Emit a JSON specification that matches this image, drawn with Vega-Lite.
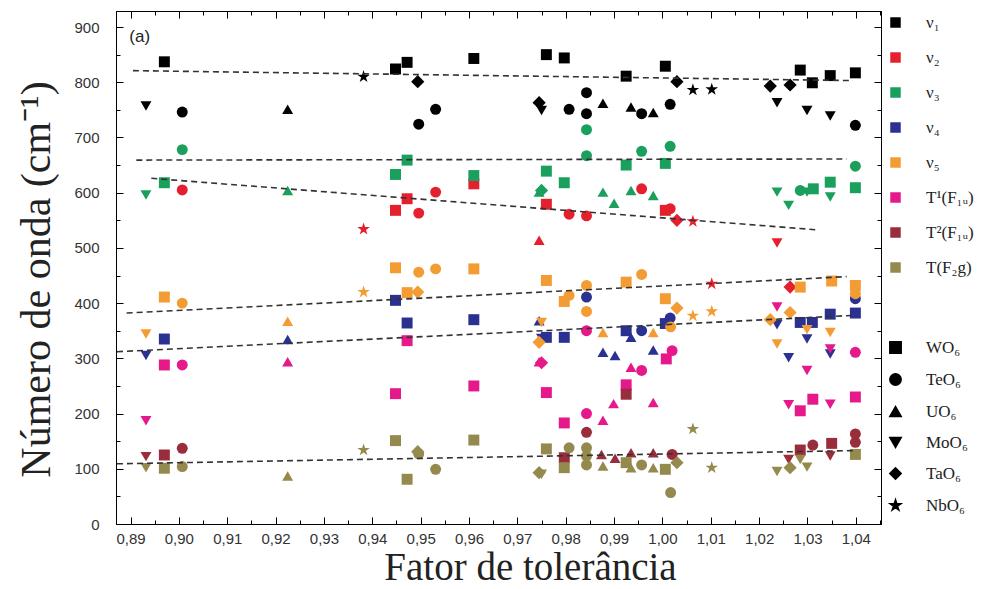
{
  "$schema": "https://vega.github.io/schema/vega-lite/v6.json",
  "width": 765,
  "height": 513,
  "autosize": {"type": "none"},
  "padding": {"left": 116, "top": 11, "right": 103, "bottom": 65},
  "background": "white",
  "config": {
    "view": {"stroke": "black", "strokeWidth": 1},
    "axis": {"domainColor": "black", "tickColor": "black", "grid": false, "labelColor": "#333", "labelFont": "Liberation Sans", "labelFontSize": 15, "titleFont": "Liberation Serif", "titleFontWeight": "normal", "titleColor": "#222"},
    "legend": {"padding": 0, "labelFont": "Liberation Serif", "labelFontSize": 17, "labelColor": "#222"}
  },
  "layer": [
    {
      "data": {"values": [
        {"m":"v1","c":"W","t":0.897,"w":837},{"m":"v1","c":"W","t":0.9448,"w":824},{"m":"v1","c":"W","t":0.9472,"w":836},{"m":"v1","c":"W","t":0.961,"w":843},{"m":"v1","c":"W","t":0.976,"w":850},{"m":"v1","c":"W","t":0.9797,"w":844},{"m":"v1","c":"W","t":0.9925,"w":811},{"m":"v1","c":"W","t":1.0006,"w":829},{"m":"v1","c":"W","t":1.0285,"w":822},{"m":"v1","c":"W","t":1.031,"w":799},{"m":"v1","c":"W","t":1.0347,"w":812},{"m":"v1","c":"W","t":1.0399,"w":817},
        {"m":"v1","c":"Te","t":0.9007,"w":746},{"m":"v1","c":"Te","t":0.9531,"w":751},{"m":"v1","c":"Te","t":0.9496,"w":724},{"m":"v1","c":"Te","t":0.9807,"w":751},{"m":"v1","c":"Te","t":0.9843,"w":781},{"m":"v1","c":"Te","t":0.9843,"w":743},{"m":"v1","c":"Te","t":0.9957,"w":743},{"m":"v1","c":"Te","t":1.0016,"w":760},{"m":"v1","c":"Te","t":1.0399,"w":722},
        {"m":"v1","c":"U","t":0.9225,"w":751},{"m":"v1","c":"U","t":0.9877,"w":762},{"m":"v1","c":"U","t":0.9935,"w":755},{"m":"v1","c":"U","t":0.9981,"w":745},
        {"m":"v1","c":"Mo","t":0.8932,"w":757},{"m":"v1","c":"Mo","t":0.975,"w":749},{"m":"v1","c":"Mo","t":1.0237,"w":763},{"m":"v1","c":"Mo","t":1.0299,"w":749},{"m":"v1","c":"Mo","t":1.0347,"w":739},
        {"m":"v1","c":"Ta","t":0.9494,"w":801},{"m":"v1","c":"Ta","t":0.9745,"w":763},{"m":"v1","c":"Ta","t":1.003,"w":801},{"m":"v1","c":"Ta","t":1.0223,"w":793},{"m":"v1","c":"Ta","t":1.0264,"w":795},
        {"m":"v1","c":"Nb","t":0.9382,"w":810},{"m":"v1","c":"Nb","t":1.0063,"w":786},{"m":"v1","c":"Nb","t":1.0102,"w":787},

        {"m":"v2","c":"Te","t":0.9007,"w":605},{"m":"v2","c":"Te","t":0.9531,"w":601},{"m":"v2","c":"Te","t":0.9496,"w":563},{"m":"v2","c":"Te","t":0.9807,"w":561},{"m":"v2","c":"Te","t":0.9843,"w":558},{"m":"v2","c":"Te","t":0.9957,"w":607},{"m":"v2","c":"Te","t":1.0016,"w":571},
        {"m":"v2","c":"W","t":0.9472,"w":589},{"m":"v2","c":"W","t":0.9448,"w":568},{"m":"v2","c":"W","t":0.961,"w":616},{"m":"v2","c":"W","t":0.976,"w":579},{"m":"v2","c":"W","t":1.0006,"w":568},
        {"m":"v2","c":"Ta","t":1.003,"w":550},{"m":"v2","c":"Ta","t":1.0264,"w":429},
        {"m":"v2","c":"U","t":0.9745,"w":514},
        {"m":"v2","c":"Nb","t":0.9382,"w":534},{"m":"v2","c":"Nb","t":1.0063,"w":548},{"m":"v2","c":"Nb","t":1.0102,"w":435},
        {"m":"v2","c":"Mo","t":1.0237,"w":509},

        {"m":"v3","c":"Te","t":0.9007,"w":678},{"m":"v3","c":"Te","t":0.9843,"w":714},{"m":"v3","c":"Te","t":0.9843,"w":667},{"m":"v3","c":"Te","t":0.9957,"w":675},{"m":"v3","c":"Te","t":1.0016,"w":684},{"m":"v3","c":"Te","t":1.0399,"w":648},{"m":"v3","c":"Te","t":1.0285,"w":604},
        {"m":"v3","c":"W","t":0.897,"w":618},{"m":"v3","c":"W","t":0.9448,"w":633},{"m":"v3","c":"W","t":0.9472,"w":659},{"m":"v3","c":"W","t":0.961,"w":631},{"m":"v3","c":"W","t":0.976,"w":639},{"m":"v3","c":"W","t":0.9797,"w":618},{"m":"v3","c":"W","t":0.9925,"w":650},{"m":"v3","c":"W","t":1.0006,"w":653},{"m":"v3","c":"W","t":1.0312,"w":607},{"m":"v3","c":"W","t":1.0347,"w":619},{"m":"v3","c":"W","t":1.0399,"w":609},
        {"m":"v3","c":"U","t":0.9225,"w":604},{"m":"v3","c":"U","t":0.9745,"w":601},{"m":"v3","c":"U","t":0.9877,"w":601},{"m":"v3","c":"U","t":0.99,"w":581},{"m":"v3","c":"U","t":0.9935,"w":604},{"m":"v3","c":"U","t":0.9981,"w":595},
        {"m":"v3","c":"Mo","t":0.8932,"w":596},{"m":"v3","c":"Mo","t":1.0237,"w":601},{"m":"v3","c":"Mo","t":1.0261,"w":577},{"m":"v3","c":"Mo","t":1.0299,"w":601},{"m":"v3","c":"Mo","t":1.0347,"w":592},
        {"m":"v3","c":"Ta","t":0.975,"w":604},

        {"m":"v4","c":"Mo","t":0.8932,"w":305},{"m":"v4","c":"Mo","t":0.975,"w":336},{"m":"v4","c":"Mo","t":1.0237,"w":361},{"m":"v4","c":"Mo","t":1.0261,"w":301},{"m":"v4","c":"Mo","t":1.0299,"w":335},{"m":"v4","c":"Mo","t":1.0347,"w":308},
        {"m":"v4","c":"W","t":0.897,"w":335},{"m":"v4","c":"W","t":0.9448,"w":405},{"m":"v4","c":"W","t":0.9472,"w":364},{"m":"v4","c":"W","t":0.961,"w":370},{"m":"v4","c":"W","t":0.976,"w":338},{"m":"v4","c":"W","t":0.9797,"w":338},{"m":"v4","c":"W","t":0.9925,"w":350},{"m":"v4","c":"W","t":1.0006,"w":363},{"m":"v4","c":"W","t":1.0285,"w":365},{"m":"v4","c":"W","t":1.031,"w":365},{"m":"v4","c":"W","t":1.0347,"w":380},{"m":"v4","c":"W","t":1.0399,"w":382},
        {"m":"v4","c":"U","t":0.9225,"w":334},{"m":"v4","c":"U","t":0.9745,"w":368},{"m":"v4","c":"U","t":0.9877,"w":311},{"m":"v4","c":"U","t":0.9902,"w":305},{"m":"v4","c":"U","t":0.9935,"w":338},{"m":"v4","c":"U","t":0.9981,"w":315},
        {"m":"v4","c":"Te","t":0.9843,"w":411},{"m":"v4","c":"Te","t":0.9957,"w":350},{"m":"v4","c":"Te","t":1.0016,"w":373},{"m":"v4","c":"Te","t":1.0399,"w":408},

        {"m":"v5","c":"Mo","t":0.8932,"w":344},{"m":"v5","c":"Mo","t":0.975,"w":365},{"m":"v5","c":"Mo","t":1.0237,"w":326},{"m":"v5","c":"Mo","t":1.0299,"w":352},{"m":"v5","c":"Mo","t":1.0347,"w":347},
        {"m":"v5","c":"W","t":0.897,"w":411},{"m":"v5","c":"W","t":0.9448,"w":464},{"m":"v5","c":"W","t":0.9472,"w":419},{"m":"v5","c":"W","t":0.961,"w":462},{"m":"v5","c":"W","t":0.976,"w":441},{"m":"v5","c":"W","t":0.9797,"w":403},{"m":"v5","c":"W","t":0.9925,"w":438},{"m":"v5","c":"W","t":1.0006,"w":408},{"m":"v5","c":"W","t":1.0285,"w":429},{"m":"v5","c":"W","t":1.035,"w":440},{"m":"v5","c":"W","t":1.0399,"w":432},
        {"m":"v5","c":"Te","t":0.9007,"w":400},{"m":"v5","c":"Te","t":0.9496,"w":456},{"m":"v5","c":"Te","t":0.9531,"w":462},{"m":"v5","c":"Te","t":0.9807,"w":414},{"m":"v5","c":"Te","t":0.9843,"w":432},{"m":"v5","c":"Te","t":0.9843,"w":385},{"m":"v5","c":"Te","t":0.9957,"w":452},{"m":"v5","c":"Te","t":1.0017,"w":357},{"m":"v5","c":"Te","t":1.0399,"w":417},
        {"m":"v5","c":"U","t":0.9225,"w":367},{"m":"v5","c":"U","t":0.9877,"w":347},{"m":"v5","c":"U","t":0.9981,"w":347},
        {"m":"v5","c":"Ta","t":0.9494,"w":420},{"m":"v5","c":"Ta","t":0.9745,"w":329},{"m":"v5","c":"Ta","t":1.003,"w":391},{"m":"v5","c":"Ta","t":1.0223,"w":370},{"m":"v5","c":"Ta","t":1.0264,"w":383},
        {"m":"v5","c":"Nb","t":0.9382,"w":420},{"m":"v5","c":"Nb","t":1.0063,"w":377},{"m":"v5","c":"Nb","t":1.0102,"w":385},

        {"m":"T1","c":"Mo","t":0.8932,"w":187},{"m":"T1","c":"Mo","t":1.0237,"w":393},{"m":"T1","c":"Mo","t":1.0261,"w":216},{"m":"T1","c":"Mo","t":1.0299,"w":278},{"m":"T1","c":"Mo","t":1.0347,"w":317},{"m":"T1","c":"Mo","t":1.0347,"w":217},
        {"m":"T1","c":"W","t":0.897,"w":288},{"m":"T1","c":"W","t":0.9472,"w":332},{"m":"T1","c":"W","t":0.9448,"w":236},{"m":"T1","c":"W","t":0.961,"w":250},{"m":"T1","c":"W","t":0.976,"w":238},{"m":"T1","c":"W","t":0.9797,"w":183},{"m":"T1","c":"W","t":0.9925,"w":252},{"m":"T1","c":"W","t":1.0008,"w":299},{"m":"T1","c":"W","t":1.0285,"w":205},{"m":"T1","c":"W","t":1.0311,"w":226},{"m":"T1","c":"W","t":1.0399,"w":230},
        {"m":"T1","c":"Te","t":0.9007,"w":288},{"m":"T1","c":"Te","t":0.9843,"w":350},{"m":"T1","c":"Te","t":0.9843,"w":200},{"m":"T1","c":"Te","t":0.9957,"w":278},{"m":"T1","c":"Te","t":1.002,"w":314},{"m":"T1","c":"Te","t":1.0399,"w":311},
        {"m":"T1","c":"U","t":0.9225,"w":294},{"m":"T1","c":"U","t":0.9745,"w":294},{"m":"T1","c":"U","t":0.9877,"w":188},{"m":"T1","c":"U","t":0.9899,"w":218},{"m":"T1","c":"U","t":0.9935,"w":284},{"m":"T1","c":"U","t":0.9981,"w":220},
        {"m":"T1","c":"Ta","t":0.975,"w":292},

        {"m":"T2","c":"Mo","t":0.8932,"w":122},{"m":"T2","c":"Mo","t":1.0261,"w":117},{"m":"T2","c":"Mo","t":1.0347,"w":123},
        {"m":"T2","c":"W","t":0.897,"w":125},{"m":"T2","c":"W","t":0.9797,"w":120},{"m":"T2","c":"W","t":0.9925,"w":235},{"m":"T2","c":"W","t":1.0285,"w":134},{"m":"T2","c":"W","t":1.035,"w":146},
        {"m":"T2","c":"Te","t":0.9007,"w":137},{"m":"T2","c":"Te","t":0.9843,"w":166},{"m":"T2","c":"Te","t":1.002,"w":126},{"m":"T2","c":"Te","t":1.0311,"w":143},{"m":"T2","c":"Te","t":1.0399,"w":163},{"m":"T2","c":"Te","t":1.0399,"w":148},
        {"m":"T2","c":"U","t":0.9874,"w":126},{"m":"T2","c":"U","t":0.9902,"w":119},{"m":"T2","c":"U","t":0.9935,"w":129},{"m":"T2","c":"U","t":0.9981,"w":129},

        {"m":"T","c":"Mo","t":0.8932,"w":102},{"m":"T","c":"Mo","t":0.975,"w":90},{"m":"T","c":"Mo","t":1.0237,"w":95},{"m":"T","c":"Mo","t":1.0299,"w":103},{"m":"T","c":"Mo","t":1.0285,"w":117},
        {"m":"T","c":"W","t":0.897,"w":101},{"m":"T","c":"W","t":0.9448,"w":151},{"m":"T","c":"W","t":0.9472,"w":81},{"m":"T","c":"W","t":0.961,"w":152},{"m":"T","c":"W","t":0.976,"w":136},{"m":"T","c":"W","t":0.9797,"w":102},{"m":"T","c":"W","t":0.9925,"w":111},{"m":"T","c":"W","t":1.0006,"w":99},{"m":"T","c":"W","t":1.0399,"w":126},
        {"m":"T","c":"Te","t":0.9007,"w":104},{"m":"T","c":"Te","t":0.9496,"w":127},{"m":"T","c":"Te","t":0.9531,"w":99},{"m":"T","c":"Te","t":0.9807,"w":138},{"m":"T","c":"Te","t":0.9843,"w":138},{"m":"T","c":"Te","t":0.9843,"w":123},{"m":"T","c":"Te","t":0.9843,"w":107},{"m":"T","c":"Te","t":0.9957,"w":107},{"m":"T","c":"Te","t":1.0017,"w":57},
        {"m":"T","c":"U","t":0.9225,"w":87},{"m":"T","c":"U","t":0.9877,"w":105},{"m":"T","c":"U","t":0.9935,"w":102},{"m":"T","c":"U","t":0.9981,"w":102},
        {"m":"T","c":"Ta","t":0.9494,"w":131},{"m":"T","c":"Ta","t":0.9745,"w":93},{"m":"T","c":"Ta","t":1.003,"w":111},{"m":"T","c":"Ta","t":1.0264,"w":102},
        {"m":"T","c":"Nb","t":0.9382,"w":134},{"m":"T","c":"Nb","t":1.0063,"w":172},{"m":"T","c":"Nb","t":1.0102,"w":102}
      ]},
      "mark": {"type": "point", "filled": true, "opacity": 1},
      "encoding": {
        "x": {"field": "t", "type": "quantitative",
          "scale": {"domain": [0.887, 1.0452], "nice": false, "zero": false},
          "axis": {"orient": "bottom", "title": "Fator de tolerância",
            "values": [0.89,0.895,0.9,0.905,0.91,0.915,0.92,0.925,0.93,0.935,0.94,0.945,0.95,0.955,0.96,0.965,0.97,0.975,0.98,0.985,0.99,0.995,1.0,1.005,1.01,1.015,1.02,1.025,1.03,1.035,1.04,1.045],
            "labelExpr": "abs(datum.value*100 - round(datum.value*100)) < 0.01 ? replace(format(datum.value, '.2f'), '.', ',') : ''",
            "tickSize": {"condition": {"test": "abs(datum.value*100 - round(datum.value*100)) < 0.01", "value": -7}, "value": -4},
            "labelPadding": 14, "titleFontSize": 39, "titleBaseline": "alphabetic", "titleX": 414, "titleY": 55}},
        "y": {"field": "w", "type": "quantitative",
          "scale": {"domain": [0, 929], "nice": false},
          "axis": {"orient": "left", "title": "Número de onda (cm⁻¹)",
            "values": [0,50,100,150,200,250,300,350,400,450,500,550,600,650,700,750,800,850,900],
            "labelExpr": "datum.value % 100 == 0 ? datum.label : ''",
            "tickSize": {"condition": {"test": "datum.value % 100 == 0", "value": -7}, "value": -4},
            "labelPadding": 24, "titleFontSize": 42, "titleBaseline": "alphabetic", "titleAngle": -90, "titleX": -67, "titleY": 268}},
        "color": {"field": "m", "type": "nominal",
          "scale": {"domain": ["v1","v2","v3","v4","v5","T1","T2","T"], "range": ["#000000","#e5202e","#1a9f5c","#2b3190","#f39c34","#e5198a","#9a2d3c","#958a4e"]},
          "legend": {"orient": "none", "legendX": 771, "legendY": 3, "title": null, "symbolType": "square", "symbolSize": 110, "rowPadding": 17, "labelOffset": 22,
            "labelExpr": "{'v1':'ν₁','v2':'ν₂','v3':'ν₃','v4':'ν₄','v5':'ν₅','T1':'T¹(F₁ᵤ)','T2':'T²(F₁ᵤ)','T':'T(F₂g)'}[datum.label]"}},
        "shape": {"field": "c", "type": "nominal",
          "scale": {"domain": ["W","Te","U","Mo","Ta","Nb"], "range": ["square","circle","triangle-up","triangle-down","diamond","M0,-1L0.2245,-0.309L0.951,-0.309L0.363,0.118L0.588,0.809L0,0.382L-0.588,0.809L-0.363,0.118L-0.951,-0.309L-0.2245,-0.309Z"]},
          "legend": {"orient": "none", "legendX": 771, "legendY": 328, "title": null, "symbolSize": 130, "symbolFillColor": "black", "symbolStrokeColor": "black", "rowPadding": 13, "labelOffset": 22,
            "labelExpr": "{'W':'WO₆','Te':'TeO₆','U':'UO₆','Mo':'MoO₆','Ta':'TaO₆','Nb':'NbO₆'}[datum.label]"}},
        "size": {"condition": {"test": "datum.c == 'Ta' || datum.c == 'Nb'", "value": 175}, "value": 120}
      }
    },
    {
      "data": {"values": [
        {"g":"L1","t":0.8905,"w":821},{"g":"L1","t":1.0394,"w":803},
        {"g":"L2","t":0.8912,"w":659},{"g":"L2","t":1.0381,"w":661},
        {"g":"L3","t":0.8943,"w":626},{"g":"L3","t":1.0316,"w":533},
        {"g":"L4","t":0.8892,"w":382},{"g":"L4","t":1.0381,"w":448},
        {"g":"L5","t":0.8872,"w":312},{"g":"L5","t":1.0399,"w":378},
        {"g":"L6","t":0.8872,"w":109},{"g":"L6","t":1.0401,"w":133}
      ]},
      "mark": {"type": "line", "strokeDash": [6, 4], "color": "#333", "strokeWidth": 1.6},
      "encoding": {
        "x": {"field": "t", "type": "quantitative",
          "scale": {"domain": [0.887, 1.0452], "nice": false, "zero": false},
          "axis": {"orient": "top", "title": null, "labels": false,
            "values": [0.89,0.895,0.9,0.905,0.91,0.915,0.92,0.925,0.93,0.935,0.94,0.945,0.95,0.955,0.96,0.965,0.97,0.975,0.98,0.985,0.99,0.995,1.0,1.005,1.01,1.015,1.02,1.025,1.03,1.035,1.04,1.045],
            "tickSize": {"condition": {"test": "abs(datum.value*100 - round(datum.value*100)) < 0.01", "value": -7}, "value": -4}}},
        "y": {"field": "w", "type": "quantitative",
          "scale": {"domain": [0, 929], "nice": false},
          "axis": {"orient": "right", "title": null, "labels": false,
            "values": [0,50,100,150,200,250,300,350,400,450,500,550,600,650,700,750,800,850,900],
            "tickSize": {"condition": {"test": "datum.value % 100 == 0", "value": -7}, "value": -4}}},
        "detail": {"field": "g", "type": "nominal"}
      }
    },
    {
      "data": {"values": [{"t": 0.8919, "w": 882, "label": "(a)"}]},
      "mark": {"type": "text", "font": "Liberation Sans", "fontSize": 17, "color": "#222", "align": "center", "baseline": "middle"},
      "encoding": {
        "x": {"field": "t", "type": "quantitative", "scale": {"domain": [0.887, 1.0452], "nice": false, "zero": false}, "axis": null},
        "y": {"field": "w", "type": "quantitative", "scale": {"domain": [0, 929], "nice": false}, "axis": null},
        "text": {"field": "label"}
      }
    }
  ],
  "resolve": {"axis": {"x": "independent", "y": "independent"}}
}
